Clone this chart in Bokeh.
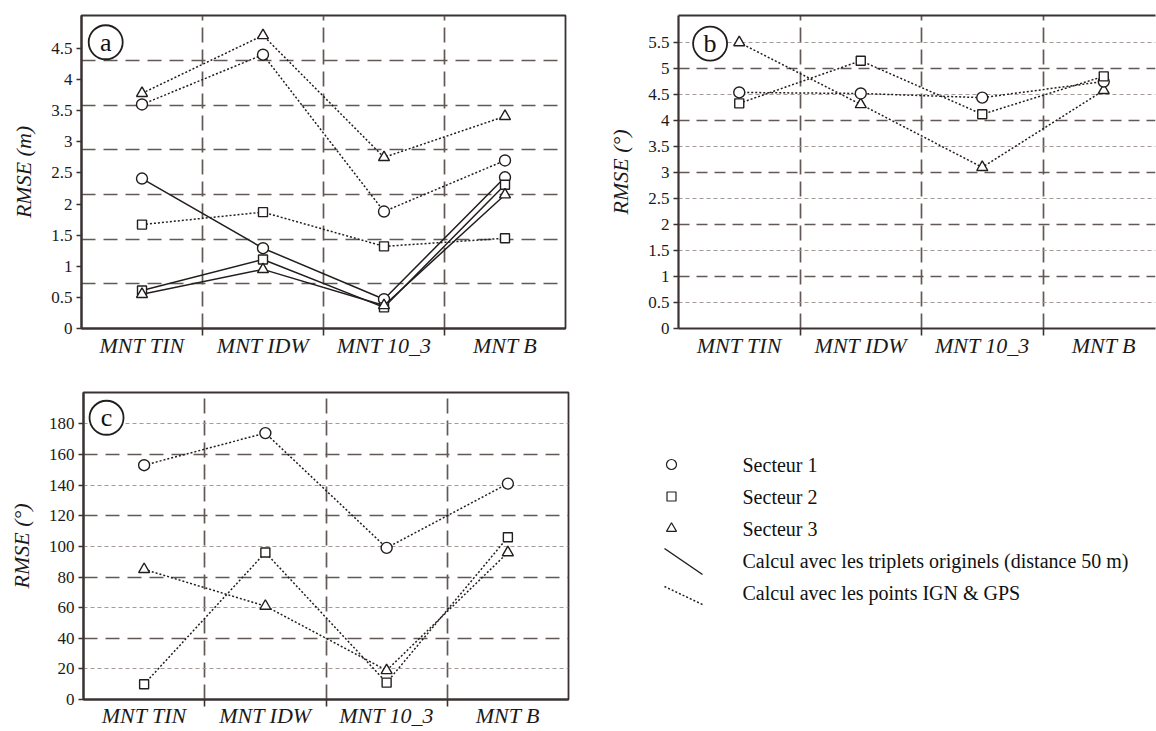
from bokeh.plotting import figure
from bokeh.models import Range1d, FixedTicker, LinearAxis
from bokeh.layouts import column, row
from bokeh.core.properties import value
from bokeh.embed import file_html
from bokeh.resources import INLINE

# ---------------- data ----------------
categories = ["MNT TIN", "MNT IDW", "MNT 10_3", "MNT B"]

# panel a : RMSE (m)
a_orig_s1 = [2.41, 1.29, 0.47, 2.43]
a_orig_s2 = [0.61, 1.11, 0.34, 2.31]
a_orig_s3 = [0.55, 0.95, 0.37, 2.15]
a_ign_s1 = [3.60, 4.40, 1.88, 2.70]
a_ign_s2 = [1.67, 1.87, 1.32, 1.45]
a_ign_s3 = [3.78, 4.71, 2.75, 3.41]
a_ticks = [0, 0.5, 1, 1.5, 2, 2.5, 3, 3.5, 4, 4.5]
a_tick_labels = ["0", "0.5", "1", "1.5", "2", "2.5", "3", "3.5", "4", "4.5"]
a_grid = [0.72, 1.43, 2.15, 2.87, 3.58, 4.30]

# panel b : RMSE (deg)
b_ign_s1 = [4.54, 4.52, 4.44, 4.75]
b_ign_s2 = [4.33, 5.15, 4.12, 4.85]
b_ign_s3 = [5.50, 4.31, 3.10, 4.58]
b_ticks = [0, 0.5, 1, 1.5, 2, 2.5, 3, 3.5, 4, 4.5, 5, 5.5]
b_tick_labels = ["0", "0.5", "1", "1.5", "2", "2.5", "3", "3.5", "4", "4.5", "5", "5.5"]

# panel c : RMSE (deg)
c_ign_s1 = [153, 174, 99, 141]
c_ign_s2 = [10, 96, 11, 106]
c_ign_s3 = [85, 61, 19, 96]
c_ticks = [0, 20, 40, 60, 80, 100, 120, 140, 160, 180]

legend_labels = ["Secteur 1", "Secteur 2", "Secteur 3",
                 "Calcul avec les triplets originels (distance 50 m)",
                 "Calcul avec les points IGN & GPS"]

# ---------------- style ----------------
FONT = "Liberation Serif"
INK = "#231e1e"
AXC = "#3a3232"
GRID_DARK = "#625855"
GRID_LIGHT = "#a39b97"
SOLID = "solid"
DOTTED = "2 2"

xs = [i + 0.5 for i in range(len(categories))]
boundaries = [i for i in range(1, len(categories))]


def base_fig(width, height, ml, mr, mt, mb, xend, yend):
    p = figure(width=width, height=height, x_range=Range1d(0, xend), y_range=Range1d(0, yend),
               output_backend="svg", toolbar_location=None,
               min_border_left=ml, min_border_right=mr, min_border_top=mt, min_border_bottom=mb)
    p.background_fill_color = "white"
    p.border_fill_color = "white"
    p.outline_line_color = AXC
    p.outline_line_width = 1.8
    # x axis
    xa = p.xaxis[0]
    xa.ticker = FixedTicker(ticks=xs, minor_ticks=boundaries)
    xa.major_label_overrides = {x: c for x, c in zip(xs, categories)}
    xa.major_tick_line_color = None
    xa.major_tick_in = 0
    xa.major_tick_out = 0
    xa.minor_tick_line_color = AXC
    xa.minor_tick_line_width = 1.6
    xa.minor_tick_in = 0
    xa.minor_tick_out = 7
    xa.axis_line_color = AXC
    xa.axis_line_width = 2.2
    xa.major_label_text_font = FONT
    xa.major_label_text_font_style = "italic"
    xa.major_label_text_font_size = "22px"
    xa.major_label_text_color = "#1a1a1a"
    xa.major_label_standoff = -3
    # y axis
    ya = p.yaxis[0]
    ya.axis_line_color = AXC
    ya.axis_line_width = 2.2
    ya.major_tick_line_color = AXC
    ya.major_tick_line_width = 1.4
    ya.major_tick_in = 0
    ya.major_tick_out = 5
    ya.minor_tick_line_color = None
    ya.major_label_text_font = FONT
    ya.major_label_text_font_size = "17px"
    ya.major_label_text_color = "#1a1a1a"
    ya.major_label_standoff = 4
    ya.axis_label_text_font = FONT
    ya.axis_label_text_font_style = "italic"
    ya.axis_label_text_font_size = "22px"
    ya.axis_label_text_color = "#1a1a1a"
    ya.axis_label_standoff = 12
    # vertical separators
    p.xgrid.ticker = FixedTicker(ticks=boundaries)
    p.xgrid.grid_line_color = GRID_DARK
    p.xgrid.grid_line_width = 1.7
    p.xgrid.grid_line_dash = "15 7"
    return p


def series(p, vals, marker, dash, size):
    p.line(xs, vals, line_color=INK, line_width=1.5, line_dash=dash)
    p.scatter(xs, vals, marker=marker, size=size, fill_color="white",
              line_color=INK, line_width=1.4)


def tag(p, x, y, letter):
    p.scatter([x], [y], marker="circle", size=34, fill_color="white",
              line_color=INK, line_width=1.8)
    p.text([x], [y], text=[letter], text_align="center", text_baseline="middle",
           text_font=value(FONT), text_font_size="26px", text_color="#111111")


# ---------------- panel a ----------------
pa = base_fig(600, 370, 81, 35, 15, 42, 4, 5.03)
pa.yaxis[0].ticker = FixedTicker(ticks=a_ticks)
pa.yaxis[0].major_label_overrides = {t: l for t, l in zip(a_ticks, a_tick_labels)}
pa.yaxis[0].axis_label = "RMSE (m)"
pa.ygrid.ticker = FixedTicker(ticks=a_grid)
pa.ygrid.grid_line_color = GRID_DARK
pa.ygrid.grid_line_width = 1.7
pa.ygrid.grid_line_dash = "14 8"
series(pa, a_ign_s3, "triangle", DOTTED, 11)
series(pa, a_ign_s1, "circle", DOTTED, 11)
series(pa, a_ign_s2, "square", DOTTED, 9)
series(pa, a_orig_s1, "circle", SOLID, 11)
series(pa, a_orig_s2, "square", SOLID, 9)
series(pa, a_orig_s3, "triangle", SOLID, 11)
tag(pa, 0.2, 4.6, "a")

# ---------------- panel b ----------------
pb = base_fig(556, 370, 78, 1, 15, 42, 477 / 121.5, 6.02)
pb.outline_line_color = None
top_axis = LinearAxis(ticker=FixedTicker(ticks=[]), axis_line_color=AXC, axis_line_width=2,
                      major_tick_line_color=None, minor_tick_line_color=None,
                      major_label_text_font_size="0px")
pb.add_layout(top_axis, "above")
pb.yaxis[0].ticker = FixedTicker(ticks=b_ticks)
pb.yaxis[0].major_label_overrides = {t: l for t, l in zip(b_ticks, b_tick_labels)}
pb.yaxis[0].axis_label = "RMSE (°)"
pb.ygrid.ticker = FixedTicker(ticks=[1, 2, 3, 4, 5], minor_ticks=[0.5, 1.5, 2.5, 3.5, 4.5, 5.5])
pb.ygrid.grid_line_color = GRID_DARK
pb.ygrid.grid_line_width = 1.7
pb.ygrid.grid_line_dash = "11 7"
pb.ygrid.minor_grid_line_color = GRID_LIGHT
pb.ygrid.minor_grid_line_width = 1.2
pb.ygrid.minor_grid_line_dash = "4 3"
series(pb, b_ign_s3, "triangle", DOTTED, 11)
series(pb, b_ign_s1, "circle", DOTTED, 11)
series(pb, b_ign_s2, "square", DOTTED, 9)
tag(pb, 0.26, 5.48, "b")

# ---------------- panel c ----------------
C_TOP, C_BOTTOM = 22, 31
pc = base_fig(600, 360, 83, 32, C_TOP, C_BOTTOM, 4, 200.5)
pc.yaxis[0].ticker = FixedTicker(ticks=c_ticks)
pc.yaxis[0].axis_label = "RMSE (°)"
pc.ygrid.ticker = FixedTicker(ticks=[40, 80, 120, 160], minor_ticks=[20, 60, 100, 140, 180])
pc.ygrid.grid_line_color = GRID_DARK
pc.ygrid.grid_line_width = 1.7
pc.ygrid.grid_line_dash = "14 8"
pc.ygrid.minor_grid_line_color = GRID_LIGHT
pc.ygrid.minor_grid_line_width = 1.2
pc.ygrid.minor_grid_line_dash = "4 3"
pc.xaxis[0].major_label_standoff = -4
series(pc, c_ign_s1, "circle", DOTTED, 11)
series(pc, c_ign_s2, "square", DOTTED, 9)
series(pc, c_ign_s3, "triangle", DOTTED, 11)
tag(pc, 0.19, 184, "c")

# ---------------- legend panel (page-pixel coordinates, frame aligned with panel c) ----------------
pl = figure(width=556, height=360, x_range=Range1d(600, 1156),
            y_range=Range1d(370 + 360 - C_BOTTOM, 370 + C_TOP),
            output_backend="svg", toolbar_location=None,
            min_border_left=0, min_border_right=0,
            min_border_top=C_TOP, min_border_bottom=C_BOTTOM)
pl.axis.visible = False
pl.grid.visible = False
pl.outline_line_color = None
pl.background_fill_color = "white"
pl.border_fill_color = "white"
row_y = [464, 496, 528, 560, 592]
pl.scatter([671, 671, 671], row_y[:3], marker=["circle", "square", "triangle"],
           size=[10, 9, 10], fill_color="white", line_color=INK, line_width=1.2)
pl.segment(x0=[664], y0=[548], x1=[702], y1=[574], line_color=INK, line_width=1.5)
pl.segment(x0=[664], y0=[586], x1=[702], y1=[604], line_color=INK, line_width=1.5,
           line_dash=DOTTED)
pl.text([742] * len(legend_labels), row_y, text=legend_labels, text_baseline="middle",
        text_align="left", text_font=value(FONT), text_font_size="20px",
        text_color="#111111")

layout = column(row(pa, pb), row(pc, pl))
open("out.html", "w").write(file_html(layout, INLINE))
